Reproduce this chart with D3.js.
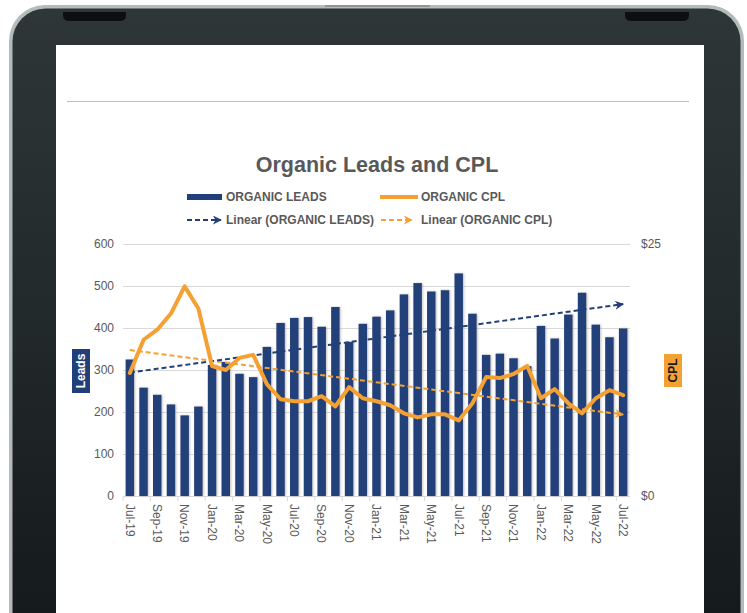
<!DOCTYPE html>
<html>
<head>
<meta charset="utf-8">
<script src="https://cdn.jsdelivr.net/npm/d3@7"></script>
<style>
  body { margin: 0; background: #ffffff; }
  svg { display: block; font-family: "Liberation Sans", Arial, sans-serif; }
</style>
</head>
<body>
<svg id="chart" width="747" height="613"></svg>
<script>
// monthly values, Jul-19 .. Jul-22
const months = ["Jul-19","Aug-19","Sep-19","Oct-19","Nov-19","Dec-19",
  "Jan-20","Feb-20","Mar-20","Apr-20","May-20","Jun-20","Jul-20","Aug-20","Sep-20","Oct-20","Nov-20","Dec-20",
  "Jan-21","Feb-21","Mar-21","Apr-21","May-21","Jun-21","Jul-21","Aug-21","Sep-21","Oct-21","Nov-21","Dec-21",
  "Jan-22","Feb-22","Mar-22","Apr-22","May-22","Jun-22","Jul-22"];

const organicLeads = [325, 258, 241, 218, 192, 213,
  312, 319, 291, 283, 355, 412, 424, 426, 403, 450, 367, 410,
  427, 442, 480, 507, 487, 490, 530, 434, 336, 339, 328, 309,
  405, 375, 432, 484, 408, 378, 399];

const organicCpl = [12.2, 15.5, 16.5, 18.1, 20.8, 18.6,
  12.9, 12.5, 13.7, 14.0, 11.1, 9.6, 9.4, 9.4, 9.9, 8.9, 10.8, 9.7,
  9.4, 9.0, 8.2, 7.8, 8.1, 8.1, 7.5, 9.2, 11.8, 11.7, 12.1, 12.9,
  9.7, 10.6, 9.2, 8.2, 9.7, 10.5, 10.0];

const leadTicks = [0, 100, 200, 300, 400, 500, 600];
const cplTicks = [0, 25];

const navy = "#21407a";
const orange = "#f5a033";
const textGrey = "#595959";

let svg = d3.select("#chart");
let defs = svg.append("defs");

// ---- tablet frame ----
let frameGrad = defs.append("linearGradient")
  .attr("id", "frameGrad").attr("x1", 0).attr("y1", 0).attr("x2", 0).attr("y2", 1);
frameGrad.append("stop").attr("offset", "0%").attr("stop-color", "#2e3638");
frameGrad.append("stop").attr("offset", "45%").attr("stop-color", "#22292b");
frameGrad.append("stop").attr("offset", "100%").attr("stop-color", "#111517");

svg.append("rect")
  .attr("x", 9).attr("y", 5).attr("width", 735).attr("height", 700)
  .attr("rx", 36).attr("fill", "#b4bbbb");
svg.append("rect")
  .attr("x", 12.5).attr("y", 8.5).attr("width", 728).attr("height", 700)
  .attr("rx", 33).attr("fill", "url(#frameGrad)");
svg.append("rect")
  .attr("x", 325).attr("y", 5).attr("width", 105).attr("height", 2)
  .attr("fill", "#8f9799");

// camera / speaker notches
[[63, 126], [625, 689]].forEach(function (n) {
  svg.append("path")
    .attr("d", "M" + n[0] + ",12 L" + n[1] + ",12 L" + n[1] + ",15 Q" + n[1] + ",21 " + (n[1] - 6) + ",21 L" +
      (n[0] + 6) + ",21 Q" + n[0] + ",21 " + n[0] + ",15 Z")
    .attr("fill", "#0c0f10");
});

// screen
svg.append("rect")
  .attr("x", 56).attr("y", 45).attr("width", 648).attr("height", 580)
  .attr("fill", "#ffffff");
svg.append("line")
  .attr("x1", 67).attr("x2", 689).attr("y1", 101.5).attr("y2", 101.5)
  .attr("stroke", "#bdbdbd").attr("stroke-width", 1);

// ---- chart ----
let x = d3.scaleBand()
  .domain(months)
  .range([123, 630])
  .paddingInner(0.38)
  .paddingOuter(0.19);

let yLeads = d3.scaleLinear().domain([0, 600]).range([496, 244]);
let yCpl = d3.scaleLinear().domain([0, 25]).range([496, 244]);

let cx = function (m) { return x(m) + x.bandwidth() / 2; };

// title
svg.append("text")
  .attr("x", 377).attr("y", 171.5)
  .attr("text-anchor", "middle")
  .attr("font-size", 21.5).attr("font-weight", "bold")
  .attr("fill", textGrey)
  .text("Organic Leads and CPL");

// gridlines
svg.append("g")
  .selectAll("line")
  .data(leadTicks.slice(1))
  .join("line")
  .attr("x1", 123).attr("x2", 630)
  .attr("y1", d => Math.round(yLeads(d)) + 0.5)
  .attr("y2", d => Math.round(yLeads(d)) + 0.5)
  .attr("stroke", "#d9d9d9");

// left axis
let leftAxis = svg.append("g")
  .attr("transform", "translate(114,0)")
  .call(d3.axisLeft(yLeads).tickValues(leadTicks).tickSize(0).tickPadding(0));
leftAxis.select(".domain").remove();
leftAxis.selectAll("text")
  .attr("font-size", 12).attr("fill", textGrey)
  .attr("font-family", "Liberation Sans, Arial, sans-serif");

// right axis
let rightAxis = svg.append("g")
  .attr("transform", "translate(641,0)")
  .call(d3.axisRight(yCpl).tickValues(cplTicks).tickSize(0).tickPadding(0)
    .tickFormat(d => "$" + d));
rightAxis.select(".domain").remove();
rightAxis.selectAll("text")
  .attr("font-size", 12).attr("fill", textGrey)
  .attr("font-family", "Liberation Sans, Arial, sans-serif");

// bottom axis, every other month labelled
let bottomAxis = svg.append("g")
  .attr("transform", "translate(0,496)")
  .call(d3.axisBottom(x).tickSize(0)
    .tickFormat((d, i) => (i % 2 === 0 ? d : "")));
bottomAxis.select(".domain").remove();
bottomAxis.selectAll("text")
  .attr("transform", "rotate(90)")
  .attr("x", 8).attr("y", 0).attr("dy", "0.35em")
  .attr("text-anchor", "start")
  .attr("font-size", 12).attr("fill", textGrey)
  .attr("font-family", "Liberation Sans, Arial, sans-serif");

svg.append("line")
  .attr("x1", 123).attr("x2", 630).attr("y1", 496.5).attr("y2", 496.5)
  .attr("stroke", "#d9d9d9");
svg.append("g")
  .selectAll("line")
  .data(d3.range(0, months.length + 1, 2))
  .join("line")
  .attr("x1", k => 123 + k * x.step()).attr("x2", k => 123 + k * x.step())
  .attr("y1", 496.5).attr("y2", 501)
  .attr("stroke", "#d9d9d9");

// bars
let shadow = defs.append("filter").attr("id", "barShadow")
  .attr("x", "-30%").attr("y", "-5%").attr("width", "160%").attr("height", "110%");
shadow.append("feDropShadow")
  .attr("dx", 1).attr("dy", 0).attr("stdDeviation", 1)
  .attr("flood-color", "#8c8c8c").attr("flood-opacity", 0.55);

svg.append("g")
  .attr("filter", "url(#barShadow)")
  .selectAll("rect")
  .data(organicLeads)
  .join("rect")
  .attr("x", (d, i) => x(months[i]))
  .attr("width", x.bandwidth())
  .attr("y", d => yLeads(d))
  .attr("height", d => yLeads(0) - yLeads(d))
  .attr("fill", navy);

// linear trendlines (least squares, like Excel's)
function linearFit(values) {
  let n = values.length;
  let mx = d3.mean(values, (d, i) => i);
  let my = d3.mean(values);
  let num = d3.sum(values, (d, i) => (i - mx) * (d - my));
  let den = d3.sum(values, (d, i) => (i - mx) * (i - mx));
  let slope = num / den;
  return [my - slope * mx, my + slope * (n - 1 - mx)];
}

function addArrow(id, colour) {
  defs.append("marker")
    .attr("id", id)
    .attr("viewBox", "0 0 10 10")
    .attr("refX", 9).attr("refY", 5)
    .attr("markerWidth", 4.5).attr("markerHeight", 4.5)
    .attr("orient", "auto")
    .attr("markerUnits", "strokeWidth")
    .append("path")
    .attr("d", "M0,0 L10,5 L0,10 L3,5 Z")
    .attr("fill", colour);
}
addArrow("arrowNavy", navy);
addArrow("arrowOrange", orange);

let leadsFit = linearFit(organicLeads);
let cplFit = linearFit(organicCpl);
let first = months[0], last = months[months.length - 1];

// CPL line
let cplLine = d3.line()
  .x((d, i) => cx(months[i]))
  .y(d => yCpl(d))
  .curve(d3.curveLinear);

svg.append("line")
  .attr("x1", cx(first)).attr("y1", yCpl(cplFit[0]))
  .attr("x2", cx(last)).attr("y2", yCpl(cplFit[1]))
  .attr("stroke", orange).attr("stroke-width", 2)
  .attr("stroke-dasharray", "5,3")
  .attr("marker-end", "url(#arrowOrange)");

svg.append("line")
  .attr("x1", cx(first)).attr("y1", yLeads(leadsFit[0]))
  .attr("x2", cx(last)).attr("y2", yLeads(leadsFit[1]))
  .attr("stroke", navy).attr("stroke-width", 2)
  .attr("stroke-dasharray", "5,3")
  .attr("marker-end", "url(#arrowNavy)");

svg.append("path")
  .datum(organicCpl)
  .attr("d", cplLine)
  .attr("fill", "none")
  .attr("stroke", orange)
  .attr("stroke-width", 4)
  .attr("stroke-linejoin", "round")
  .attr("stroke-linecap", "round");

// axis title boxes
svg.append("rect")
  .attr("x", 72).attr("y", 349).attr("width", 18).attr("height", 44)
  .attr("fill", navy);
svg.append("text")
  .attr("transform", "translate(81,371)rotate(-90)")
  .attr("text-anchor", "middle").attr("dy", "0.36em")
  .attr("font-size", 12).attr("font-weight", "bold")
  .attr("fill", "#ffffff")
  .text("Leads");

svg.append("rect")
  .attr("x", 664).attr("y", 354).attr("width", 18).attr("height", 33)
  .attr("fill", orange);
svg.append("text")
  .attr("transform", "translate(673,370.5)rotate(-90)")
  .attr("text-anchor", "middle").attr("dy", "0.36em")
  .attr("font-size", 12).attr("font-weight", "bold")
  .attr("fill", "#1a1a1a")
  .text("CPL");

// legend
let legend = svg.append("g");
let legendItems = [
  {label: "ORGANIC LEADS", x: 187, y: 197, type: "bar"},
  {label: "ORGANIC CPL", x: 380, y: 197, type: "line"},
  {label: "Linear (ORGANIC LEADS)", x: 187, y: 220, type: "trendNavy"},
  {label: "Linear (ORGANIC CPL)", x: 381, y: 220, type: "trendOrange"}
];

legendItems.forEach(function (item) {
  if (item.type === "bar") {
    legend.append("rect")
      .attr("x", item.x).attr("y", item.y - 3).attr("width", 35).attr("height", 6)
      .attr("fill", navy);
  } else if (item.type === "line") {
    legend.append("line")
      .attr("x1", item.x).attr("x2", item.x + 38)
      .attr("y1", item.y).attr("y2", item.y)
      .attr("stroke", orange).attr("stroke-width", 4);
  } else {
    let colour = item.type === "trendNavy" ? navy : orange;
    legend.append("line")
      .attr("x1", item.x).attr("x2", item.x + (item.type === "trendNavy" ? 34 : 31))
      .attr("y1", item.y).attr("y2", item.y)
      .attr("stroke", colour).attr("stroke-width", 2)
      .attr("stroke-dasharray", "5,3")
      .attr("marker-end", item.type === "trendNavy" ? "url(#arrowNavy)" : "url(#arrowOrange)");
  }
  legend.append("text")
    .attr("x", item.x < 300 ? 226 : 421)
    .attr("y", item.y).attr("dy", "0.36em")
    .attr("font-size", 12).attr("font-weight", "bold")
    .attr("fill", textGrey)
    .text(item.label);
});
</script>
</body>
</html>
